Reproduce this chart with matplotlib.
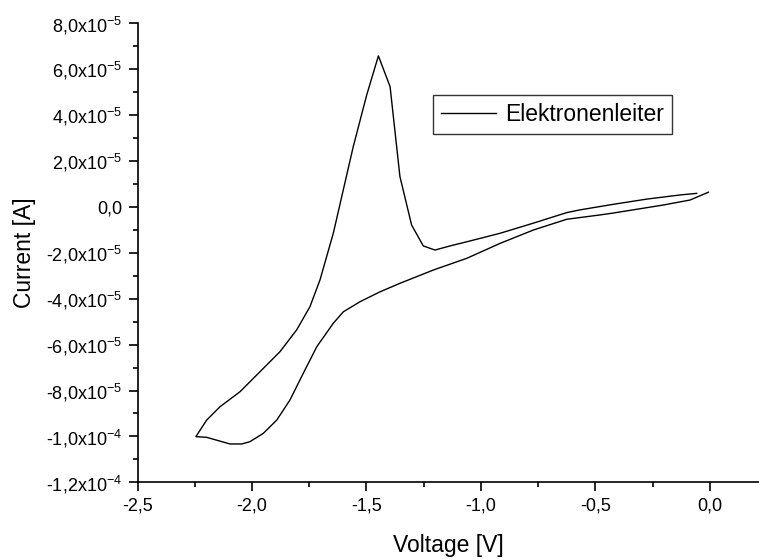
import numpy as np
import matplotlib
matplotlib.use("Agg")
import matplotlib.pyplot as plt
from matplotlib.ticker import MultipleLocator, FuncFormatter

plt.rcParams['font.family'] = ['Liberation Sans', 'DejaVu Sans']
plt.rcParams['mathtext.default'] = 'regular'

# cyclic voltammogram (V in volts, I in 1e-5 A)
voltage = [-0.058, -0.131, -0.276, -0.424, -0.568, -0.626, -0.772, -0.917,
           -1.062, -1.135, -1.201, -1.252, -1.303, -1.354, -1.397, -1.448,
           -1.499, -1.558, -1.645, -1.703, -1.747, -1.805, -1.878, -1.965,
           -2.052, -2.140, -2.198, -2.245, -2.198, -2.096, -2.045, -2.009,
           -1.951, -1.892, -1.834, -1.776, -1.717, -1.645, -1.601, -1.528,
           -1.441, -1.354, -1.208, -1.062, -0.917, -0.772, -0.626, -0.480,
           -0.424, -0.205, -0.087, -0.007]
current = [0.59, 0.52, 0.34, 0.11, -0.13, -0.25, -0.71, -1.15,
           -1.52, -1.70, -1.88, -1.70, -0.79, 1.32, 5.24, 6.58,
           4.88, 2.62, -1.15, -3.18, -4.35, -5.36, -6.31, -7.18,
           -8.05, -8.71, -9.29, -10.01, -10.04, -10.33, -10.33, -10.23,
           -9.87, -9.29, -8.41, -7.25, -6.09, -5.07, -4.57, -4.13,
           -3.70, -3.33, -2.75, -2.24, -1.59, -1.01, -0.54, -0.35,
           -0.27, 0.08, 0.30, 0.64]
series_name = "Elektronenleiter"

V = np.array(voltage)
I = np.array(current) * 1e-5

fig = plt.figure(figsize=(7.59, 5.59), dpi=100)
ax = fig.add_axes([137.5 / 759, (559 - 482.3) / 559, 1 - 137.5 / 759, (482.3 - 23.3) / 559])

ax.plot(V, I, color='black', lw=1.0, label=series_name)

ax.set_xlim(-2.5, 0.214)
ax.set_ylim(-1.2e-4, 8e-5)

ax.spines['top'].set_visible(False)
ax.spines['right'].set_visible(False)
for s in ('left', 'bottom'):
    ax.spines[s].set_linewidth(1.2)

ax.xaxis.set_major_locator(MultipleLocator(0.5))
ax.xaxis.set_minor_locator(MultipleLocator(0.25))
ax.yaxis.set_major_locator(MultipleLocator(2e-5))
ax.yaxis.set_minor_locator(MultipleLocator(1e-5))


def xfmt(v, pos):
    return f"{v:.1f}".replace('.', ',').replace('-0,0', '0,0')


def yfmt(v, pos):
    if abs(v) < 1e-12:
        return "0,0"
    exp = int(np.floor(np.log10(abs(v)) + 1e-9))
    mant = v / 10 ** exp
    return f"{mant:.1f}".replace('.', ',') + "x10$^{" + str(exp) + "}$"


ax.xaxis.set_major_formatter(FuncFormatter(xfmt))
ax.yaxis.set_major_formatter(FuncFormatter(yfmt))

ax.tick_params(which='major', direction='out', length=6.5, width=1.2,
               labelsize=13, pad=4.5, colors='black')
ax.tick_params(which='minor', direction='out', length=3.5, width=1.2)

ax.set_xlabel("Voltage [V]", fontsize=16.5, labelpad=14)
ax.set_ylabel("Current [A]", fontsize=16.5, labelpad=7)

leg = ax.legend(loc='upper left', bbox_to_anchor=((433.3 - 137.5) / 621.5, 1 - (95 - 23.3) / 459),
                fontsize=16.5, frameon=True, fancybox=False, handlelength=2.4,
                borderpad=0.35, handletextpad=0.4, borderaxespad=0)
leg.get_frame().set_edgecolor('black')
leg.get_frame().set_linewidth(1.0)

fig.savefig("out.png", dpi=100)
